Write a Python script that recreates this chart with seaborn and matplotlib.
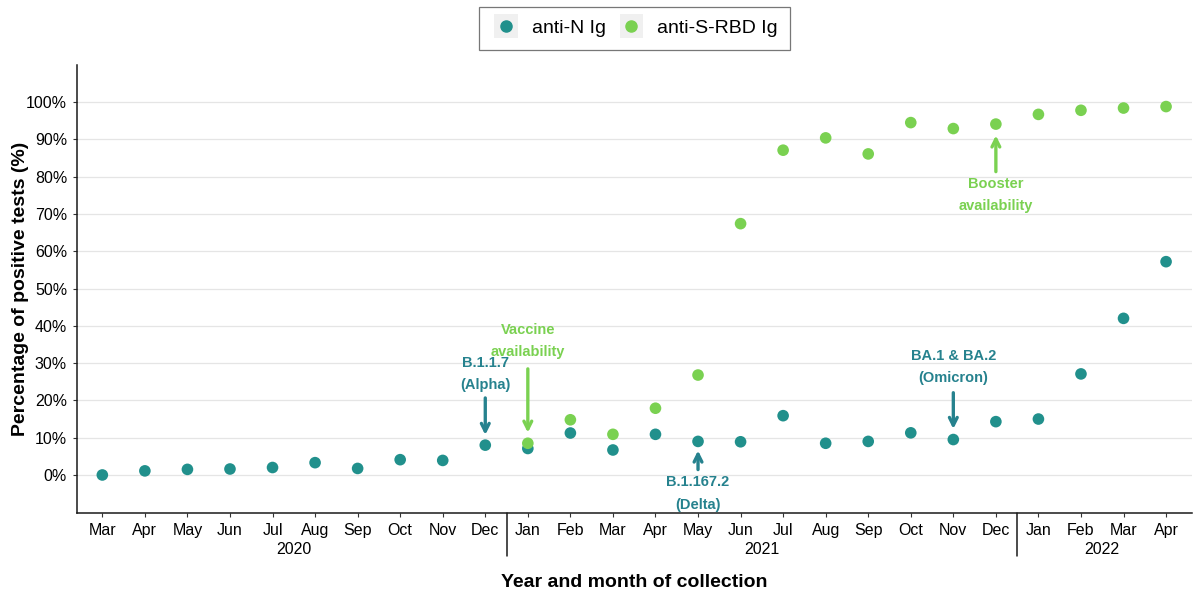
import numpy as np
import pandas as pd
import matplotlib
matplotlib.use('Agg')
import matplotlib.pyplot as plt
import seaborn as sns
from matplotlib.legend_handler import HandlerBase
from matplotlib.patches import Rectangle
from matplotlib.lines import Line2D

months = ['Mar', 'Apr', 'May', 'Jun', 'Jul', 'Aug', 'Sep', 'Oct', 'Nov', 'Dec',
          'Jan', 'Feb', 'Mar', 'Apr', 'May', 'Jun', 'Jul', 'Aug', 'Sep', 'Oct', 'Nov', 'Dec',
          'Jan', 'Feb', 'Mar', 'Apr']
years = ['2020'] * 10 + ['2021'] * 12 + ['2022'] * 4
anti_n = [0.0, 1.1, 1.5, 1.6, 2.0, 3.3, 1.75, 4.1, 3.9, 8.0,
          7.1, 11.25, 6.7, 10.9, 9.0, 8.9, 15.9, 8.5, 9.0, 11.3, 9.5, 14.3,
          15.0, 27.1, 42.0, 57.2]
# anti-S-RBD only measured from Jan 2021
anti_s = [np.nan] * 10 + [8.5, 14.8, 10.9, 17.9, 26.8, 67.4, 87.1, 90.4, 86.1, 94.5, 92.9, 94.1,
                          96.7, 97.8, 98.4, 98.8]

teal = '#21908C'
green = '#7AD151'
teal_txt = '#26828E'

idx = np.arange(len(months))
df = pd.DataFrame({'idx': np.concatenate([idx, idx]),
                   'value': anti_n + anti_s,
                   'test': ['anti-N Ig'] * len(idx) + ['anti-S-RBD Ig'] * len(idx)}).dropna()

sns.set_theme(style='white')
plt.rcParams['font.family'] = ['Liberation Sans', 'DejaVu Sans']
plt.rcParams['text.color'] = 'black'

fig = plt.figure(figsize=(12, 6), dpi=100)
ax = fig.add_axes([0.064, 0.145, 0.929, 0.747])

for v in range(0, 101, 10):
    ax.axhline(v, color='#e5e5e5', lw=0.9, zorder=0)

sns.scatterplot(data=df, x='idx', y='value', hue='test', palette=[teal, green],
                s=70, edgecolor='none', linewidth=0, ax=ax, legend=False, zorder=3)

ax.set_xlim(-0.6, 25.6)
ax.set_ylim(-10.2, 110)
ax.set_yticks(range(0, 101, 10))
ax.set_yticklabels([f'{v}%' for v in range(0, 101, 10)], fontsize=11.5, color='black')
ax.set_xticks(idx)
ax.set_xticklabels(months, fontsize=11.5, color='black')
ax.tick_params(axis='both', length=3, width=0.8, color='#333333', pad=4, bottom=True, left=True)
for s in ['top', 'right']:
    ax.spines[s].set_visible(False)
for s in ['left', 'bottom']:
    ax.spines[s].set_color('#1a1a1a')
    ax.spines[s].set_linewidth(1.1)

# year separators and labels under the month ticks
xt = ax.get_xaxis_transform()
for b in [9.5, 21.5]:
    ax.plot([b, b], [0, -0.095], color='#1a1a1a', lw=1.1, transform=xt, clip_on=False)
for y in ['2020', '2021', '2022']:
    pos = [i for i, yy in enumerate(years) if yy == y]
    ax.text(np.mean(pos), -0.082, y, transform=xt, ha='center', va='center', fontsize=11.5, color='black')

ax.set_xlabel('Year and month of collection', fontsize=14, fontweight='bold', color='black')
ax.set_ylabel('Percentage of positive tests (%)', fontsize=14, fontweight='bold', color='black')
ax.xaxis.set_label_coords(0.5, -0.136)
ax.yaxis.set_label_coords(-0.043, 0.5)

# annotations
def note(x, txt_y, y0, y1, text, color):
    ax.text(x, txt_y, text, ha='center', va='center', fontsize=10.5, fontweight='bold',
            color=color, linespacing=1.75, zorder=4)
    ax.annotate('', xy=(x, y1), xytext=(x, y0),
                arrowprops=dict(arrowstyle='->', color=color, lw=2.4, mutation_scale=14), zorder=4)

note(9, 27.0, 21.4, 10.0, 'B.1.1.7\n(Alpha)', teal_txt)
note(10, 35.9, 29.2, 10.6, 'Vaccine\navailability', green)
note(14, -5.0, 0.7, 7.3, 'B.1.167.2\n(Delta)', teal_txt)
note(20, 29.0, 22.8, 11.6, 'BA.1 & BA.2\n(Omicron)', teal_txt)
note(21, 75.0, 80.6, 91.8, 'Booster\navailability', green)


class KeyHandler(HandlerBase):
    def create_artists(self, legend, orig_handle, xdescent, ydescent, width, height, fontsize, trans):
        side = height * 1.75
        cx = width / 2 - xdescent
        cy = height / 2 - ydescent
        r = Rectangle((cx - side / 2, cy - side / 2), side, side, facecolor='#f0f0f0',
                      edgecolor='none', transform=trans)
        m = Line2D([cx], [cy], marker='o', markersize=8, color=orig_handle.get_color(),
                   linestyle='none', transform=trans)
        return [r, m]


handles = [Line2D([], [], color=teal), Line2D([], [], color=green)]
leg = fig.legend(handles, ['anti-N Ig', 'anti-S-RBD Ig'], loc='upper center',
                 bbox_to_anchor=(0.529, 1.005), ncol=2, fontsize=14, frameon=True,
                 fancybox=False, edgecolor='#555555', handler_map={Line2D: KeyHandler()},
                 handlelength=1.45, handletextpad=0.6, columnspacing=0.6, borderpad=0.65)
leg.get_frame().set_linewidth(0.9)

fig.savefig('out.png', dpi=100)
